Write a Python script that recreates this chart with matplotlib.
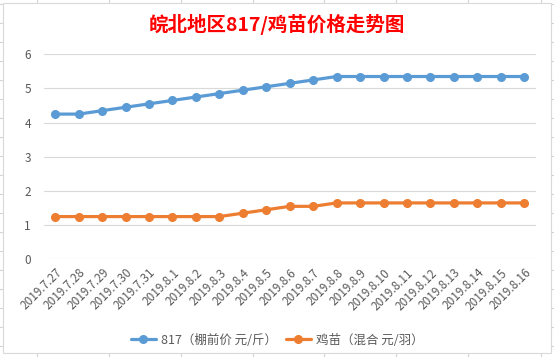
import matplotlib
matplotlib.use("Agg")
import matplotlib.pyplot as plt
from matplotlib.lines import Line2D
from matplotlib.patches import Rectangle

plt.rcParams['font.family'] = ['Noto Sans CJK SC', 'DejaVu Sans']

title = "皖北地区817/鸡苗价格走势图"
dates = ["2019.7.27", "2019.7.28", "2019.7.29", "2019.7.30", "2019.7.31",
         "2019.8.1", "2019.8.2", "2019.8.3", "2019.8.4", "2019.8.5", "2019.8.6",
         "2019.8.7", "2019.8.8", "2019.8.9", "2019.8.10", "2019.8.11", "2019.8.12",
         "2019.8.13", "2019.8.14", "2019.8.15", "2019.8.16"]
s817 = [4.25, 4.25, 4.35, 4.45, 4.55, 4.65, 4.75, 4.85, 4.95, 5.05, 5.15,
        5.25, 5.35, 5.35, 5.35, 5.35, 5.35, 5.35, 5.35, 5.35, 5.35]
chick = [1.25, 1.25, 1.25, 1.25, 1.25, 1.25, 1.25, 1.25, 1.35, 1.45, 1.55,
         1.55, 1.65, 1.65, 1.65, 1.65, 1.65, 1.65, 1.65, 1.65, 1.65]
series_names = ["817（棚前价 元/斤）", "鸡苗（混合 元/羽）"]
colors = ["#5B9BD5", "#ED7D31"]
yticks = [0, 1, 2, 3, 4, 5, 6]

W, H = 554, 357
fig = plt.figure(figsize=(W / 100, H / 100), dpi=100)

def fx(px):
    return px / W

def fy(py):
    return 1 - py / H

# Excel sheet background grid
grid_c = "#D4D4D4"
for x in [37, 109, 181, 253, 324, 396, 468, 541]:
    fig.add_artist(Line2D([fx(x), fx(x)], [0, 1], color=grid_c, lw=0.8, zorder=0))
for k in range(19):
    y = 4 + 19 * k
    fig.add_artist(Line2D([0, 1], [fy(y), fy(y)], color=grid_c, lw=0.8, zorder=0))
# chart area
fig.add_artist(Rectangle((fx(3), fy(353)), fx(548), (350) / H, transform=fig.transFigure,
                         facecolor="white", edgecolor="#D9D9D9", lw=0.8, zorder=1))

ax = fig.add_axes([fx(43.5), fy(259.3), fx(536 - 43.5), (259.3 - 54.3) / H], zorder=2)
ax.patch.set_alpha(0)
x = list(range(len(dates)))
for vals, name, c in zip([s817, chick], series_names, colors):
    ax.plot(x, vals, color=c, lw=2.3, marker="o", markersize=5.5, label=name,
            solid_capstyle="round")

ax.set_xlim(-0.5, len(dates) - 0.5)
ax.set_ylim(0, 6)
ax.set_yticks(yticks)
ax.set_yticklabels([str(t) for t in yticks])
ax.set_xticks(x)
ax.set_xticklabels(dates, rotation=45, ha="right", va="top", rotation_mode="anchor")
ax.tick_params(axis="both", length=0, colors="#595959", labelsize=8.5)
ax.tick_params(axis="y", pad=9)
ax.tick_params(axis="x", pad=5)
ax.grid(axis="y", color="#D9D9D9", lw=0.8)
ax.set_axisbelow(True)
for s in ax.spines.values():
    s.set_visible(False)

fig.text(0.5, fy(24), title, color="#FF0000", fontsize=14, fontweight="bold",
         ha="center", va="center", zorder=3)

leg = fig.legend(loc="center", bbox_to_anchor=(0.5, fy(340)), ncol=2, frameon=False,
                 fontsize=9, handlelength=2.0, columnspacing=0.7, handletextpad=0.4)
for t in leg.get_texts():
    t.set_color("#595959")

fig.savefig("out.png", dpi=100)
